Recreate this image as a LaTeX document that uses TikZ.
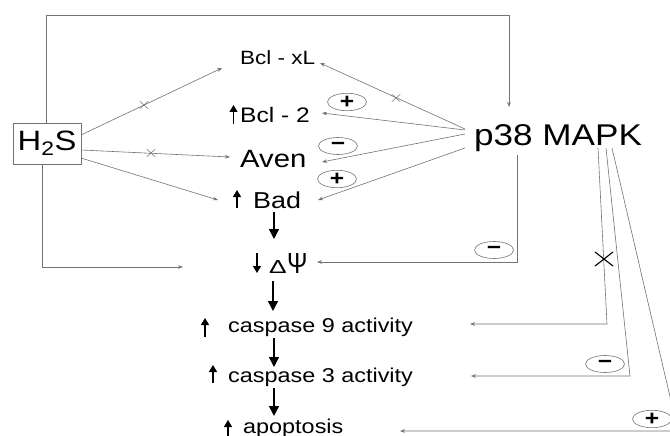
\documentclass[tikz,border=0pt]{standalone}
\usepackage{fontspec}
\setmainfont{Liberation Sans}[FakeStretch=1.17]
\usetikzlibrary{arrows.meta,shapes.geometric,shapes.misc}
\definecolor{ln}{RGB}{115,115,115}
\newcommand\fsz[1]{\fontsize{#1pt}{#1pt}\selectfont}
\tikzset{
  conn/.style={draw=ln, line width=0.6pt, -{Stealth[length=5pt,width=3.6pt]}},
  flow/.style={draw=black, line width=1.5pt, -{Triangle[length=10pt,width=10pt]}},
  updown/.style={draw=black, line width=1.3pt, -{Triangle[length=7pt,width=8pt]}},
  sign/.style={draw=ln, ellipse, line width=0.6pt, minimum width=39pt, minimum height=17pt, inner sep=0pt, text=black, font=\fsz{21}\bfseries},
  lab/.style={anchor=base west, inner sep=0pt, text=black},
  xmark/.style={draw=ln, cross out, line width=0.5pt, minimum width=8pt, minimum height=7pt, inner sep=0pt},
}
\begin{document}
\begin{tikzpicture}[x=1pt,y=-1pt]
\useasboundingbox (0,0) rectangle (670,436);
\clip (0,0) rectangle (670,436);
\fill[white] (0,0) rectangle (670,436);

% text nodes
\node[draw=ln, line width=0.6pt, minimum width=68pt, minimum height=41pt, inner sep=0pt, font=\fsz{28}] (h2s) at (47,143.5) {H\textsubscript{2}S};
\node[lab, font=\fsz{20}] (bclxl) at (240,65) {\scalebox{0.96}{Bcl - xL}};
\node[lab, font=\fsz{21}] (bcl2) at (240,122) {Bcl - 2};
\node[lab, font=\fsz{25}] (aven) at (240,167) {Aven};
\node[lab, font=\fsz{23}] (bad) at (253,208) {Bad};
\node[lab, font=\fsz{25}] (delta) at (269,273) {\scalebox{0.9}[0.75]{Δ}};
\node[lab, font=\fsz{29}] (psi) at (287,273) {\scalebox{0.72}[1]{Ψ}};
\node[lab, font=\fsz{20}] (c9) at (228,332) {caspase 9 activity};
\node[lab, font=\fsz{20}] (c3) at (228,382) {caspase 3 activity};
\node[lab, font=\fsz{20}] (apo) at (243,433) {apoptosis};
\node[lab, font=\fsz{30}] (p38) at (474,145) {p38 MAPK};

% small up/down arrows beside the labels
\coordinate (a1s) at (233.5,124); \coordinate (a1e) at (233.5,105);
\coordinate (a2s) at (237,208);   \coordinate (a2e) at (237,190);
\coordinate (a3s) at (257,253);   \coordinate (a3e) at (257,273);
\coordinate (a4s) at (205,337);   \coordinate (a4e) at (205,318);
\coordinate (a5s) at (213,383);   \coordinate (a5e) at (213,365);
\coordinate (a6s) at (228,436);   \coordinate (a6e) at (228,420);
\draw[updown] (a1s) -- (a1e);
\draw[updown] (a2s) -- (a2e);
\draw[updown] (a3s) -- (a3e);
\draw[updown] (a4s) -- (a4e);
\draw[updown] (a5s) -- (a5e);
\draw[updown] (a6s) -- (a6e);

% sign ellipses
\node[sign] (s1) at (347,102) {+};
\node[sign] (s2) at (338,146) {−};
\node[sign] (s3) at (337,179) {+};
\node[sign] (s4) at (494,250) {−};
\node[sign] (s5) at (605,364) {−};
\node[sign] (s6) at (652,419) {+};

% coordinates
\coordinate (hA) at (81,135);
\coordinate (hB) at (81,150);
\coordinate (hC) at (81,158);
\coordinate (tXL) at (222,68);
\coordinate (tAv) at (230,157);
\coordinate (tBd) at (218,200);
\coordinate (pA) at (465,129);
\coordinate (pB) at (465,130);
\coordinate (pC) at (465,134);
\coordinate (pD) at (465,148);
\coordinate (uXL) at (320,63);
\coordinate (u2) at (322,113);
\coordinate (uAv) at (322,162);
\coordinate (uBd) at (318,200);
\coordinate (top1) at (46,123);
\coordinate (top2) at (46,15);
\coordinate (top3) at (509,15);
\coordinate (top4) at (509,107);
\coordinate (bot1) at (42,164);
\coordinate (bot2) at (42,267);
\coordinate (bot3) at (183,267);
\coordinate (m1) at (517,155);
\coordinate (m2) at (517,262);
\coordinate (m3) at (317,262);
\coordinate (k1) at (598,148);
\coordinate (k2) at (607,324);
\coordinate (k3) at (470,324);
\coordinate (j1) at (606,148);
\coordinate (j2) at (630,376);
\coordinate (j3) at (471,376);
\coordinate (i1) at (612,148);
\coordinate (i2) at (678,431);
\coordinate (i3) at (400,431);
\coordinate (f1) at (274,212);
\coordinate (f2) at (274,239);
\coordinate (f3) at (273,281);
\coordinate (f4) at (273,311);
\coordinate (f5) at (274,338);
\coordinate (f6) at (274,367);
\coordinate (f7) at (274,388);
\coordinate (f8) at (274,416);

% H2S connectors
\draw[conn] (hA) -- (tXL);
\draw[conn] (hB) -- (tAv);
\draw[conn] (hC) -- (tBd);
\draw[conn] (top1) -- (top2) -- (top3) -- (top4);
\draw[conn] (bot1) -- (bot2) -- (bot3);

% p38 connectors
\draw[conn] (pA) -- (uXL);
\draw[conn] (pB) -- (u2);
\draw[conn] (pC) -- (uAv);
\draw[conn] (pD) -- (uBd);
\draw[conn] (m1) -- (m2) -- (m3);
\draw[conn] (k1) -- (k2) -- (k3);
\draw[conn] (j1) -- (j2) -- (j3);
\draw[conn] (i1) -- (i2) -- (i3);

% x markers
\node[xmark] (x1) at (144,105) {};
\node[xmark] (x2) at (151,153) {};
\node[xmark] (x3) at (396,98) {};
\node[draw=black, cross out, line width=1.1pt, minimum width=17pt, minimum height=13pt, inner sep=0pt] (x4) at (604,259) {};

% main flow
\draw[flow] (f1) -- (f2);
\draw[flow] (f3) -- (f4);
\draw[flow] (f5) -- (f6);
\draw[flow] (f7) -- (f8);
\end{tikzpicture}
\end{document}
